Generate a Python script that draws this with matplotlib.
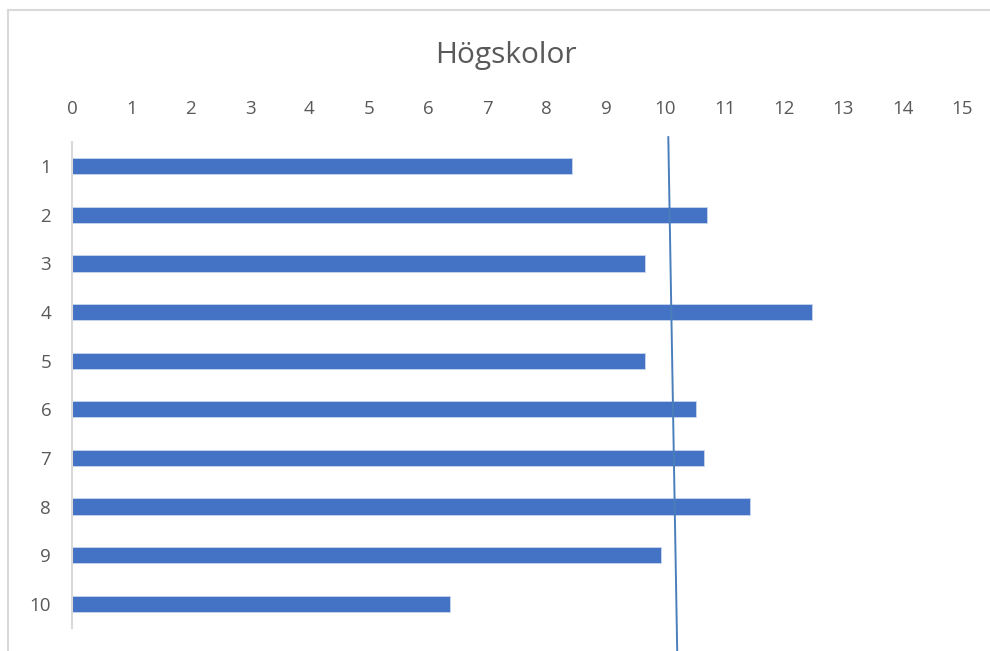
import matplotlib.pyplot as plt
from matplotlib.lines import Line2D

categories = ["1", "2", "3", "4", "5", "6", "7", "8", "9", "10"]
values = [8.42, 10.70, 9.66, 12.47, 9.66, 10.51, 10.66, 11.43, 9.93, 6.37]
x_ticks = list(range(0, 16))
# hand-drawn marker line (x at top, x at bottom)
marker_x = [10.05, 10.2]

plt.rcParams['font.family'] = ['Open Sans', 'DejaVu Sans']

fig = plt.figure(figsize=(9.9, 6.51), dpi=100)
ax = fig.add_axes([72/990, 1-628/651, 890/990, (628-142)/651])

pos = list(range(len(categories)))
ax.barh(pos, values, height=0.33, color="#4472C4", edgecolor="#c9d6ee", linewidth=0.6)
ax.set_ylim(9.5, -0.5)
ax.set_xlim(0, 15)
ax.set_yticks(pos)
ax.set_yticklabels(categories)
ax.set_xticks(x_ticks)
ax.xaxis.tick_top()
ax.tick_params(axis='x', length=0, pad=17, labelsize=13.5, labelcolor="#595959")
ax.tick_params(axis='y', length=0, pad=15, labelsize=13.5, labelcolor="#595959")
for s in ["top", "right", "bottom"]:
    ax.spines[s].set_visible(False)
ax.spines["left"].set_color("#d9d9d9")
ax.spines["left"].set_linewidth(1.5)

ax.plot(marker_x, [-0.6, 9.97], color="#4a7ebb", linewidth=1.4, clip_on=False)

fig.text(506/990, 1-55/651, "Högskolor", ha="center", va="center", fontsize=21.5, color="#595959")

# frame of the chart area
fig.add_artist(Line2D([8/990, 8/990], [0, 1-10/651], color="#d9d9d9", linewidth=1.5))
fig.add_artist(Line2D([8/990, 1], [1-10/651, 1-10/651], color="#d9d9d9", linewidth=1.5))

fig.savefig("out.png", dpi=100)
